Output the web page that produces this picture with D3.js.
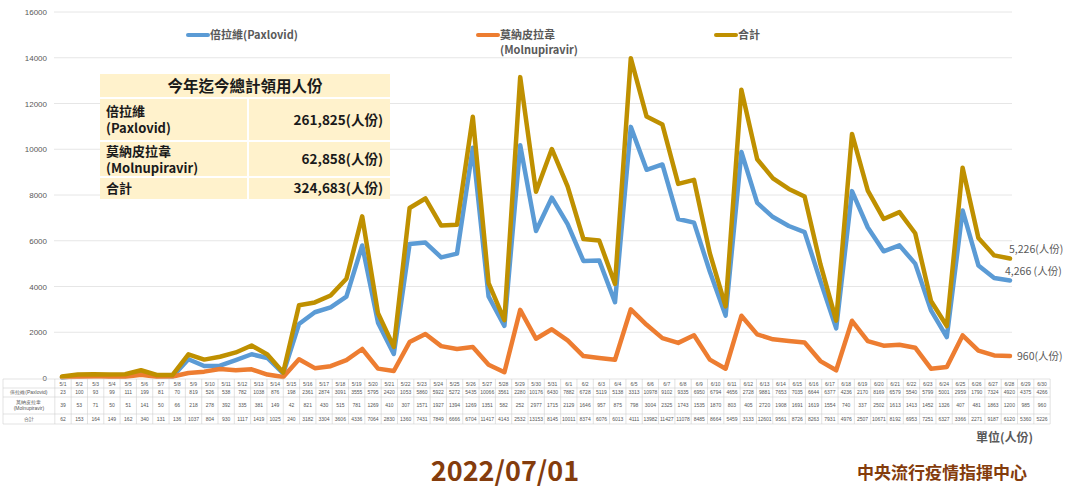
<!DOCTYPE html>
<html>
<head>
<meta charset="utf-8">
<script src="https://cdn.jsdelivr.net/npm/d3@7"></script>
<style>
  body { margin: 0; background: #fff; }
  svg { display: block; font-family: "Noto Sans CJK TC", "Noto Sans", sans-serif; }
</style>
</head>
<body>
<script>
// dates 5/1 - 6/30
const dates = [];
for (let d = 1; d <= 31; d++) dates.push("5/" + d);
for (let d = 1; d <= 30; d++) dates.push("6/" + d);

const paxlovid = [23, 100, 93, 99, 111, 199, 81, 70, 819, 526, 538, 782, 1038, 876, 198,
  2361, 2874, 3091, 3555, 5795, 2420, 1053, 5860, 5922, 5272, 5435, 10066, 3561, 2280, 10176, 6430,
  7882, 6728, 5119, 5138, 3313, 10978, 9102, 9335, 6950, 6794, 4656, 2728, 9881, 7653, 7035,
  6644, 6377, 4236, 2170, 8169, 6579, 5540, 5799, 5001, 2959, 1790, 7324, 4920, 4375, 4266];

const molnupiravir = [39, 53, 71, 50, 51, 141, 50, 66, 218, 278, 392, 335, 381, 149, 42,
  821, 430, 515, 781, 1269, 410, 307, 1571, 1927, 1394, 1269, 1351, 582, 252, 2977, 1715,
  2129, 1646, 957, 875, 798, 3004, 2325, 1743, 1535, 1870, 803, 405, 2720, 1908, 1691,
  1619, 1554, 740, 337, 2502, 1613, 1413, 1452, 1326, 407, 481, 1863, 1200, 985, 960];

const total = [62, 153, 164, 149, 162, 340, 131, 136, 1037, 804, 930, 1117, 1419, 1025, 240,
  3182, 3304, 3606, 4336, 7064, 2830, 1360, 7431, 7849, 6666, 6704, 11417, 4143, 2532, 13153, 8145,
  10011, 8374, 6076, 6013, 4111, 13982, 11427, 11078, 8485, 8664, 5459, 3133, 12601, 9561, 8726,
  8263, 7931, 4976, 2507, 10671, 8192, 6953, 7251, 6327, 3366, 2271, 9187, 6120, 5360, 5226];

const yTicks = [0, 2000, 4000, 6000, 8000, 10000, 12000, 14000, 16000];

const seriesColors = ["#5b9bd5", "#ed7d31", "#bf9000"];
const tableLabels = [["倍拉維(Paxlovid)"], ["莫納皮拉韋", "(Molnupiravir)"], ["合計"]];

const summaryTitle = "今年迄今總計領用人份";
const summaryRows = [
  { name: ["倍拉維", "(Paxlovid)"], value: "261,825(人份)" },
  { name: ["莫納皮拉韋", "(Molnupiravir)"], value: "62,858(人份)" },
  { name: ["合計"], value: "324,683(人份)" }
];

const W = 1067, H = 491;
const svg = d3.select("body").append("svg").attr("width", W).attr("height", H);

// chart x scale and (wider) table x scale
const x = d3.scalePoint().domain(dates).range([62, 1010]);
const xt = d3.scalePoint().domain(dates).range([63, 1042]);
const step = xt.step();
const y = d3.scaleLinear().domain([0, 16000]).range([378, 12]);

// grid
const yAxis = d3.axisLeft(y).tickValues(yTicks).tickSize(0).tickPadding(0)
  .tickFormat(d3.format("d"));
const gy = svg.append("g").attr("transform", "translate(47,0)").call(yAxis);
gy.select(".domain").remove();
gy.selectAll("text").attr("fill", "#595959").attr("font-size", 8)
  .attr("font-family", "Liberation Sans, sans-serif");

svg.append("g").selectAll("line").data(yTicks.filter(d => d > 0)).join("line")
  .attr("x1", 54).attr("x2", 1012)
  .attr("y1", d => y(d)).attr("y2", d => y(d))
  .attr("stroke", "#e6e6e6").attr("stroke-width", 1);

// lines
const line = d3.line().x((d, i) => x(dates[i])).y(d => y(d));
const series = [paxlovid, molnupiravir, total];
svg.append("g").selectAll("path").data(series).join("path")
  .attr("d", line)
  .attr("fill", "none")
  .attr("stroke", (d, i) => seriesColors[i])
  .attr("stroke-width", 4.5)
  .attr("stroke-linejoin", "round")
  .attr("stroke-linecap", "round");

// end labels
const endLabels = [
  { v: total, text: "5,226(人份)", dx: -1, dy: -5 },
  { v: paxlovid, text: "4,266 (人份)", dx: -5, dy: -5 },
  { v: molnupiravir, text: "960(人份)", dx: 7, dy: 4 }
];
svg.append("g").selectAll("text").data(endLabels).join("text")
  .attr("x", d => x(dates[dates.length - 1]) + d.dx)
  .attr("y", d => y(d.v[d.v.length - 1]) + d.dy)
  .attr("font-size", 10.5).attr("fill", "#595959")
  .text(d => d.text);

// legend
const legend = [
  { x: 188, lines: ["倍拉維(Paxlovid)"] },
  { x: 478, lines: ["莫納皮拉韋", "(Molnupiravir)"] },
  { x: 716, lines: ["合計"] }
];
const lg = svg.append("g").selectAll("g").data(legend).join("g")
  .attr("transform", d => `translate(${d.x},35)`);
lg.append("line").attr("x1", 0).attr("x2", 20)
  .attr("stroke", (d, i) => seriesColors[i]).attr("stroke-width", 4).attr("stroke-linecap", "round");
lg.each(function (d) {
  const t = d3.select(this).append("text").attr("x", 22).attr("y", 4)
    .attr("font-size", 11).attr("font-weight", "bold").attr("fill", "#595959");
  d.lines.forEach((s, k) => t.append("tspan").attr("x", 22).attr("dy", k ? 15 : 0).text(s));
});

// summary box
const bx = 100, bw = 290, cx = 248;
const box = svg.append("g");
const rowsY = [74, 98, 141, 177, 199];
box.append("rect").attr("x", bx).attr("y", rowsY[0]).attr("width", bw)
  .attr("height", rowsY[4] - rowsY[0]).attr("fill", "#fff2cc");
box.append("text").attr("x", bx + bw / 2).attr("y", 92).attr("text-anchor", "middle")
  .attr("font-size", 15.5).attr("font-weight", "bold").attr("fill", "#1a1a1a").text(summaryTitle);
box.selectAll("line.h").data(rowsY.slice(1, 4)).join("line")
  .attr("x1", bx).attr("x2", bx + bw).attr("y1", d => d).attr("y2", d => d)
  .attr("stroke", "#fff").attr("stroke-width", 2);
box.append("line").attr("x1", cx).attr("x2", cx).attr("y1", rowsY[1]).attr("y2", rowsY[4])
  .attr("stroke", "#fff").attr("stroke-width", 2);
summaryRows.forEach((r, i) => {
  const top = rowsY[i + 1], bot = rowsY[i + 2];
  const mid = (top + bot) / 2;
  const t = box.append("text").attr("x", 106).attr("font-size", 13).attr("font-weight", "bold")
    .attr("fill", "#1a1a1a");
  const n = r.name.length;
  r.name.forEach((s, k) => t.append("tspan").attr("x", 106)
    .attr("y", mid + 5 + (k - (n - 1) / 2) * 17).text(s));
  box.append("text").attr("x", 383).attr("y", mid + 5).attr("text-anchor", "end")
    .attr("font-size", 13.5).attr("font-weight", "bold").attr("fill", "#1a1a1a").text(r.value);
});

// data table
const tRows = [379, 388, 397, 414, 424];
const tLeft = 3, tRight = xt(dates[dates.length - 1]) + step / 2;
const tg = svg.append("g").attr("stroke", "#d0d0d0").attr("stroke-width", 0.6);
tRows.forEach(yy => tg.append("line").attr("x1", tLeft).attr("x2", tRight).attr("y1", yy).attr("y2", yy));
const colEdges = [tLeft].concat(dates.map(d => xt(d) - step / 2), [tRight]);
tg.selectAll("line.v").data(colEdges).join("line")
  .attr("x1", d => d).attr("x2", d => d).attr("y1", tRows[0]).attr("y2", tRows[4]);

const cells = svg.append("g").attr("font-size", 5).attr("fill", "#555").attr("text-anchor", "middle")
  .attr("font-family", "Liberation Sans, sans-serif");
cells.selectAll("text.d").data(dates).join("text")
  .attr("x", d => xt(d)).attr("y", 385.5).text(d => d);
series.forEach((s, r) => {
  const mid = (tRows[r + 1] + tRows[r + 2]) / 2 + 1.8;
  cells.append("g").selectAll("text").data(s).join("text")
    .attr("x", (d, i) => xt(dates[i])).attr("y", mid).text(d => d);
  const n = tableLabels[r].length;
  tableLabels[r].forEach((l, k) => cells.append("text")
    .attr("x", (tLeft + xt(dates[0]) - step / 2) / 2)
    .attr("y", mid + (k - (n - 1) / 2) * 6).text(l));
});

// footer
svg.append("text").attr("x", 1033).attr("y", 442).attr("text-anchor", "end")
  .attr("font-size", 12).attr("font-weight", "bold").attr("fill", "#595959").text("單位(人份)");
svg.append("text").attr("x", 505).attr("y", 481).attr("text-anchor", "middle")
  .attr("font-size", 27).attr("font-weight", "bold").attr("fill", "#843c0c").text("2022/07/01");
svg.append("text").attr("x", 1027).attr("y", 479).attr("text-anchor", "end")
  .attr("font-size", 17).attr("font-weight", "bold").attr("fill", "#843c0c").text("中央流行疫情指揮中心");
</script>
</body>
</html>
